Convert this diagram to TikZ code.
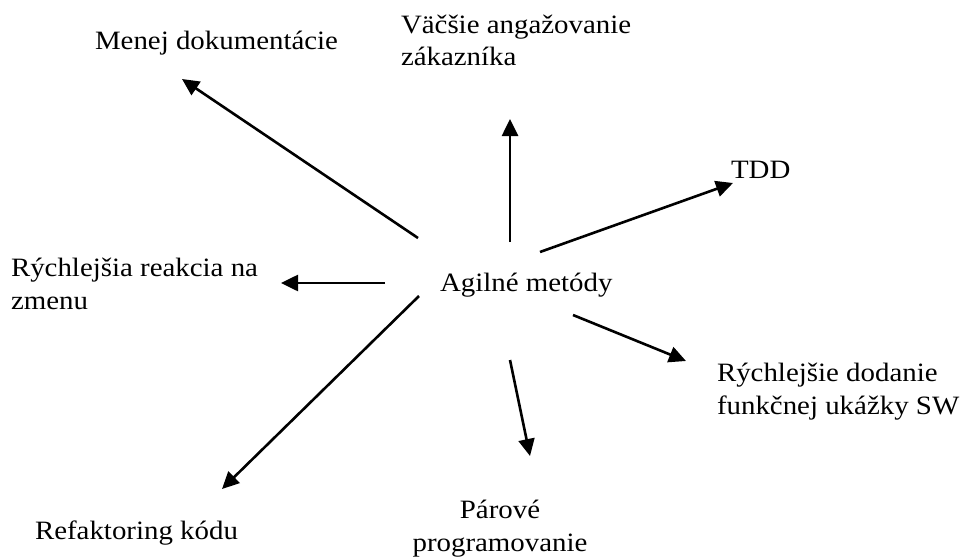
\documentclass[tikz,border=0pt]{standalone}
\usepackage{fontspec}
\setmainfont[FakeStretch=1.09]{Liberation Serif}
\usetikzlibrary{arrows.meta}
\tikzset{
  lbl/.style={inner sep=0pt, outer sep=0pt, align=left,
    font=\fontsize{26.5}{32.5}\selectfont, text=black},
  arr/.style={line width=2.6pt, -{Triangle[length=17pt,width=16pt]}}
}
\begin{document}
\begin{tikzpicture}[x=1pt,y=-1pt]
\useasboundingbox (0,0) rectangle (960,559);
% labels (base anchor = baseline of the last line)
\node[lbl, anchor=base west] (menej) at (95,50) {Menej dokumentácie};
\node[lbl, anchor=base west] (vacsie) at (401,66) {Väčšie angažovanie\\zákazníka};
\node[lbl, anchor=base west] (tdd) at (731,178) {TDD};
\node[lbl, anchor=base west] (reakcia) at (11,309) {Rýchlejšia reakcia na\\zmenu};
\node[lbl, anchor=base west] (agil) at (440,291) {Agilné metódy};
\node[lbl, anchor=base west] (dodanie) at (717,414) {Rýchlejšie dodanie\\funkčnej ukážky SW};
\node[lbl, anchor=base, align=center] (parove) at (500,551) {Párové\\programovanie};
\node[lbl, anchor=base west] (refakt) at (35,539) {Refaktoring kódu};
% arrow end points
\coordinate (s1) at (418,238); \coordinate (e1) at (182,79);
\coordinate (s2) at (510,242); \coordinate (e2) at (510,119);
\coordinate (s3) at (540,252); \coordinate (e3) at (733,183);
\coordinate (s4) at (385,283); \coordinate (e4) at (281,283);
\coordinate (s5) at (419,296); \coordinate (e5) at (222,489);
\coordinate (s6) at (573,315); \coordinate (e6) at (686,361);
\coordinate (s7) at (510,360); \coordinate (e7) at (530,456);
\draw[arr] (s1) -- (e1);
\draw[arr] (s2) -- (e2);
\draw[arr] (s3) -- (e3);
\draw[arr] (s4) -- (e4);
\draw[arr] (s5) -- (e5);
\draw[arr] (s6) -- (e6);
\draw[arr] (s7) -- (e7);
\end{tikzpicture}
\end{document}
